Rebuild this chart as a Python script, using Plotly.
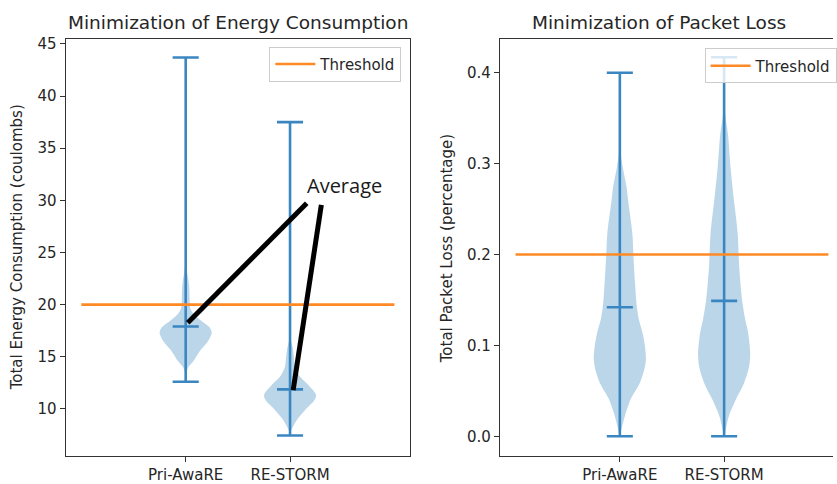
import plotly.graph_objects as go

# ---- data -------------------------------------------------------------
methods = ["Pri-AwaRE", "RE-STORM"]
positions = [1, 2]

# Total energy consumption (coulombs)
energy_min = [12.6, 7.45]
energy_max = [43.7, 37.5]
energy_mean = [17.9, 11.87]
energy_threshold = 20

# Energy density outlines: value levels and relative half-widths (peak = 1)
energy_levels_pri = [12.6, 13.5, 14.0, 14.6, 15.6, 16.5, 17.3, 17.8, 18.4, 19.1,
                     19.7, 20.5, 21.5, 22.3, 23.0, 24.0, 26.0, 43.7]
energy_width_pri = [0.0, 0.03, 0.1, 0.3, 0.56, 0.86, 1.0, 0.92, 0.62, 0.3,
                    0.17, 0.15, 0.14, 0.11, 0.06, 0.02, 0.005, 0.0]
energy_levels_res = [7.45, 7.9, 8.3, 9.0, 9.9, 10.85, 11.3, 11.8, 12.3, 13.1,
                     14.0, 15.0, 15.9, 16.5, 18.0, 37.5]
energy_width_res = [0.0, 0.04, 0.12, 0.28, 0.58, 0.94, 1.0, 0.88, 0.7, 0.38,
                    0.2, 0.15, 0.1, 0.04, 0.01, 0.0]

# Total packet loss (percentage)
loss_min = [0.0, 0.0]
loss_max = [0.40, 0.417]
loss_mean = [0.142, 0.149]
loss_threshold = 0.2

loss_levels_pri = [0.0, 0.005, 0.023, 0.041, 0.059, 0.075, 0.085, 0.1, 0.114, 0.13,
                   0.146, 0.17, 0.2, 0.223, 0.259, 0.274, 0.295, 0.31, 0.33, 0.40]
loss_width_pri = [0.0, 0.04, 0.2, 0.42, 0.77, 0.95, 1.0, 0.96, 0.87, 0.72,
                  0.64, 0.58, 0.52, 0.48, 0.32, 0.26, 0.12, 0.04, 0.01, 0.0]
loss_levels_res = [0.0, 0.005, 0.023, 0.041, 0.059, 0.077, 0.092, 0.114, 0.13, 0.15,
                   0.186, 0.223, 0.259, 0.295, 0.332, 0.35, 0.365, 0.417]
loss_width_res = [0.0, 0.04, 0.19, 0.46, 0.77, 0.96, 1.0, 0.92, 0.8, 0.69,
                  0.58, 0.52, 0.38, 0.25, 0.15, 0.06, 0.02, 0.0]

# "Average" pointer strokes (energy panel, data coordinates)
pointer_x = [1.02, 2.16, None, 2.03, 2.30]
pointer_y = [18.27, 29.72, None, 11.79, 29.56]

# ---- styling ----------------------------------------------------------
BLUE = "#3a86c1"
FILL = "rgba(31,119,180,0.3)"
ORANGE = "#ff8a25"
FONT = "DejaVu Sans"
TXT = "#262626"
HALF = 0.25       # violin peak half-width (x units)
CAP = 0.125       # cap / mean bar half-width

W, H = 837, 484


def px_x(p):
    return p / W


def px_y(p):
    return 1 - p / H


fig = go.Figure()


def add_violin(pos, levels, widths, vmin, vmax, vmean, xa, ya):
    xs = [pos + HALF * w for w in widths] + [pos - HALF * w for w in reversed(widths)]
    ys = list(levels) + list(reversed(levels))
    fig.add_trace(go.Scatter(
        x=xs, y=ys, mode="lines", fill="toself", fillcolor=FILL,
        line=dict(width=0, shape="spline", smoothing=0.8),
        xaxis=xa, yaxis=ya, showlegend=False, hoverinfo="skip"))
    fig.add_trace(go.Scatter(
        x=[pos, pos, None, pos - CAP, pos + CAP, None, pos - CAP, pos + CAP,
           None, pos - CAP, pos + CAP],
        y=[vmin, vmax, None, vmin, vmin, None, vmax, vmax, None, vmean, vmean],
        mode="lines", line=dict(color=BLUE, width=2.6),
        xaxis=xa, yaxis=ya, showlegend=False, hoverinfo="skip"))


# energy panel
add_violin(positions[0], energy_levels_pri, energy_width_pri,
           energy_min[0], energy_max[0], energy_mean[0], "x", "y")
add_violin(positions[1], energy_levels_res, energy_width_res,
           energy_min[1], energy_max[1], energy_mean[1], "x", "y")
fig.add_trace(go.Scatter(
    x=[0, 3], y=[energy_threshold] * 2, mode="lines", name="Threshold",
    line=dict(color=ORANGE, width=2.6), xaxis="x", yaxis="y", legend="legend"))
fig.add_trace(go.Scatter(
    x=pointer_x, y=pointer_y, mode="lines", line=dict(color="black", width=5),
    xaxis="x", yaxis="y", showlegend=False, hoverinfo="skip"))

# packet loss panel
add_violin(positions[0], loss_levels_pri, loss_width_pri,
           loss_min[0], loss_max[0], loss_mean[0], "x2", "y2")
add_violin(positions[1], loss_levels_res, loss_width_res,
           loss_min[1], loss_max[1], loss_mean[1], "x2", "y2")
fig.add_trace(go.Scatter(
    x=[0, 3], y=[loss_threshold] * 2, mode="lines", name="Threshold",
    line=dict(color=ORANGE, width=2.6), xaxis="x2", yaxis="y2", legend="legend2"))

axis_common = dict(showgrid=False, zeroline=False, showline=True, linecolor="#333333",
                   linewidth=1.3, ticks="outside", ticklen=5, tickwidth=1.1,
                   tickcolor="#333333", tickfont=dict(family=FONT, size=15, color=TXT))

legend_common = dict(bgcolor="rgba(255,255,255,0.8)", bordercolor="#cccccc", borderwidth=1,
                     font=dict(family=FONT, size=15, color=TXT), yanchor="top",
                     itemwidth=40)

y_dom = [px_y(458), px_y(35.5)]

fig.update_layout(
    width=W, height=H, margin=dict(l=0, r=0, t=0, b=0),
    paper_bgcolor="white", plot_bgcolor="white",
    xaxis=dict(domain=[px_x(66), px_x(412)], range=[-0.15, 3.15], anchor="y",
               tickvals=positions, ticktext=methods, mirror=True, **axis_common),
    yaxis=dict(domain=y_dom, range=[5.45, 45.47], anchor="x",
               tickvals=[10, 15, 20, 25, 30, 35, 40, 45], mirror=True, **axis_common),
    xaxis2=dict(domain=[px_x(502.3), 1.0], range=[-0.15, 3.044], anchor="y2",
                tickvals=positions, ticktext=methods, mirror=True, **axis_common),
    yaxis2=dict(domain=y_dom, range=[-0.022, 0.437], anchor="x2",
                tickvals=[0.0, 0.1, 0.2, 0.3, 0.4], tickformat=".1f", mirror=False,
                **axis_common),
    legend=dict(x=px_x(403.3), xanchor="right", y=px_y(43.3), **legend_common),
    legend2=dict(x=px_x(708), xanchor="left", y=px_y(45), **legend_common),
    annotations=[
        dict(text="Minimization of Energy Consumption", x=px_x(239), y=px_y(19),
             xref="paper", yref="paper", showarrow=False, xanchor="center",
             yanchor="middle", font=dict(family=FONT, size=18.5, color=TXT)),
        dict(text="Minimization of Packet Loss", x=px_x(662), y=px_y(19),
             xref="paper", yref="paper", showarrow=False, xanchor="center",
             yanchor="middle", font=dict(family=FONT, size=18.5, color=TXT)),
        dict(text="Total Energy Consumption (coulombs)", x=px_x(18), y=px_y(246.5),
             xref="paper", yref="paper", showarrow=False, textangle=-90,
             xanchor="center", yanchor="middle",
             font=dict(family=FONT, size=15, color=TXT)),
        dict(text="Total Packet Loss (percentage)", x=px_x(450), y=px_y(247.5),
             xref="paper", yref="paper", showarrow=False, textangle=-90,
             xanchor="center", yanchor="middle",
             font=dict(family=FONT, size=15, color=TXT)),
        dict(text="Average", x=2.52, y=31.43, xref="x", yref="y", showarrow=False,
             xanchor="center", yanchor="middle",
             font=dict(family="Open Sans", size=20, color="#1a1a1a")),
    ],
)

fig.write_html("out.html")
